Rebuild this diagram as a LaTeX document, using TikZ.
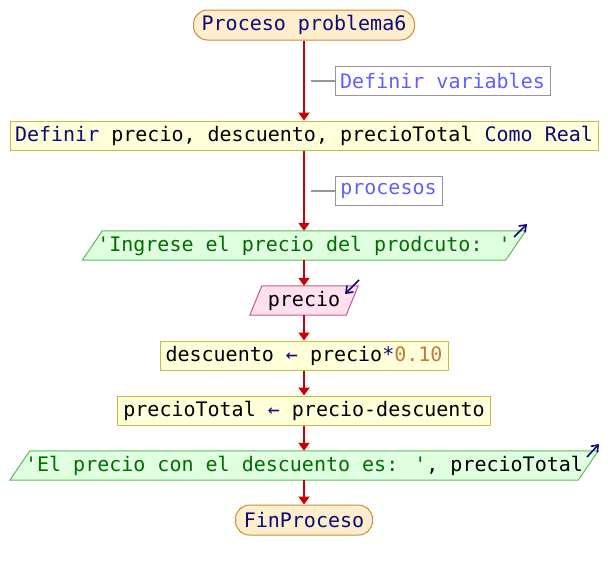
\documentclass[tikz,border=0pt]{standalone}
\usepackage{fontspec}
\setmainfont{DejaVu Sans Mono}[Ligatures=TeXOff]
\usetikzlibrary{arrows.meta}
\definecolor{kw}{RGB}{10,10,120}
\definecolor{strc}{RGB}{0,110,0}
\definecolor{numc}{RGB}{200,120,60}
\definecolor{cmtc}{RGB}{95,95,255}
\definecolor{flowc}{RGB}{204,0,0}
\definecolor{startfill}{RGB}{255,238,204}
\definecolor{startdraw}{RGB}{200,140,60}
\definecolor{procfill}{RGB}{255,255,218}
\definecolor{procdraw}{RGB}{200,190,60}
\definecolor{outfill}{RGB}{224,255,224}
\definecolor{outdraw}{RGB}{90,190,90}
\definecolor{infill}{RGB}{255,224,240}
\definecolor{indraw}{RGB}{200,90,130}
\definecolor{cmtdraw}{RGB}{150,150,150}
\begin{document}
\begin{tikzpicture}[x=1pt,y=-1pt,
  txt/.style={font=\fontsize{20}{22}\selectfont, inner sep=0pt},
  startbox/.style={txt, draw=startdraw, fill=startfill, rounded corners=14pt, line width=1pt, text=kw},
  procbox/.style={txt, draw=procdraw, fill=procfill, line width=1pt},
  shapebox/.style={txt},
  outshape/.style={draw=outdraw, fill=outfill, line width=1pt},
  inshape/.style={draw=indraw, fill=infill, line width=1pt},
  cmt/.style={txt, draw=cmtdraw, line width=1pt, text=cmtc},
  cline/.style={draw=cmtdraw, line width=2pt},
  flow/.style={draw=flowc, line width=1.8pt, -{Triangle[length=8pt,width=11pt]}},
  icon/.style={draw=kw, line width=1.6pt, -{Straight Barb[length=6pt,width=9pt]}}
]
\useasboundingbox (0,0) rectangle (608,570);

% nodes
\node[startbox, minimum width=221pt, minimum height=30pt] (start) at (304,25) {Proceso problema6};
\node[procbox, minimum width=588pt, minimum height=29pt] (def) at (304,135.5)
  {\textcolor{kw}{Definir} precio, descuento, precioTotal \textcolor{kw}{Como Real}};
\node[shapebox, minimum width=443pt, minimum height=29pt] (o1) at (304,245.5) {};
\node[shapebox, minimum width=108pt, minimum height=29pt] (in1) at (304,300.5) {};
\node[procbox, minimum width=288pt, minimum height=29pt] (a1) at (304,355.5)
  {descuento \textcolor{kw}{←} precio\textcolor{kw}{*}\textcolor{numc}{0.10}};
\node[procbox, minimum width=373pt, minimum height=29pt] (a2) at (304,410.5)
  {precioTotal \textcolor{kw}{←} precio-descuento};
\node[shapebox, minimum width=588pt, minimum height=29pt] (o2) at (304,465.5) {};
\node[startbox, minimum width=137pt, minimum height=30pt] (end) at (304,520) {FinProceso};

% parallelograms
\draw[outshape] ([xshift=20pt]o1.north west) -- (o1.north east) -- ([xshift=-20pt]o1.south east) -- (o1.south west) -- cycle;
\node[txt, text=strc] (o1t) at (o1.center) {'Ingrese el precio del prodcuto: '};
\draw[inshape] ([xshift=12pt]in1.north west) -- (in1.north east) -- ([xshift=-12pt]in1.south east) -- (in1.south west) -- cycle;
\node[txt] (in1t) at (in1.center) {precio};
\draw[outshape] ([xshift=20pt]o2.north west) -- (o2.north east) -- ([xshift=-20pt]o2.south east) -- (o2.south west) -- cycle;
\node[txt] (o2t) at (o2.center) {\textcolor{strc}{'El precio con el descuento es: '}, precioTotal};

% icons
\draw[icon] (514,237) -- (527,224);
\draw[icon] (359,280) -- (345,294);
\draw[icon] (587,457) -- (599,444);

% comments
\node[cmt, minimum width=215pt, minimum height=29pt] (c1) at (442.5,80.5) {Definir variables};
\node[cmt, minimum width=107pt, minimum height=29pt] (c2) at (388.5,190.5) {procesos};
\coordinate (c1a) at (311,80.5);
\coordinate (c2a) at (311,190.5);
\draw[cline] (c1a) -- (c1.west);
\draw[cline] (c2a) -- (c2.west);

% flow
\draw[flow] (start.south) -- (def.north);
\draw[flow] (def.south) -- (o1.north);
\draw[flow] (o1.south) -- (in1.north);
\draw[flow] (in1.south) -- (a1.north);
\draw[flow] (a1.south) -- (a2.north);
\draw[flow] (a2.south) -- (o2.north);
\draw[flow] (o2.south) -- (end.north);
\end{tikzpicture}
\end{document}
